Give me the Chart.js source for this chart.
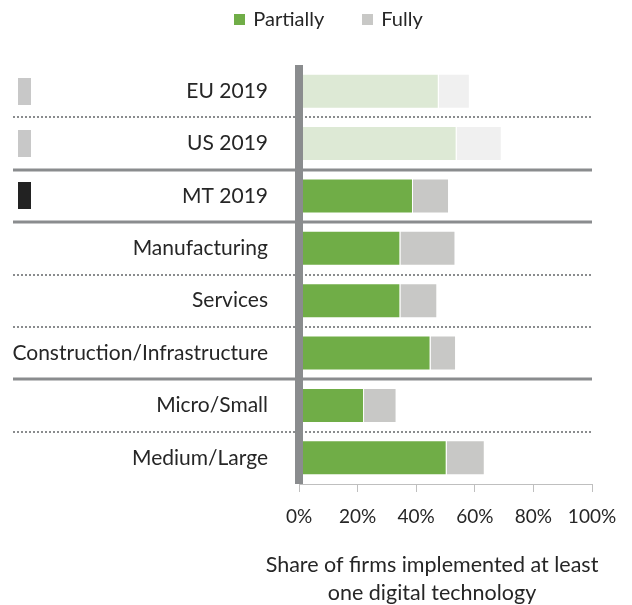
<!DOCTYPE html>
<html>
<head>
<meta charset="utf-8">
<script src="https://cdn.jsdelivr.net/npm/chart.js@4.4.0/dist/chart.umd.min.js"></script>
<style>
  html, body { margin: 0; padding: 0; background: #fff; }
  #wrap { width: 632px; height: 605px; position: relative; }
</style>
</head>
<body>
<div id="wrap"><canvas id="myChart"></canvas></div>
<script>
const categories = ['EU 2019', 'US 2019', 'MT 2019', 'Manufacturing', 'Services', 'Construction/Infrastructure', 'Micro/Small', 'Medium/Large']
const partially = [47.7, 53.8, 38.9, 34.6, 34.6, 44.9, 22.2, 50.4]
const fully = [10.6, 15.4, 12.3, 18.8, 12.6, 8.7, 11.1, 13.0]
const xTicks = [0, 20, 40, 60, 80, 100]
const axisTitle = ['Share of firms implemented at least', 'one digital technology']

// benchmark rows are drawn faded, with a small marker in front
const benchmark = [true, true, false, false, false, false, false, false]
const markers = ['#c8c8c8', '#c8c8c8', '#222222', null, null, null, null, null]
// line drawn under each row
const separators = ['dotted', 'solid', 'solid', 'dotted', 'dotted', 'solid', 'dotted']

const green = '#70ad47'
const greenLight = '#dde9d5'
const gray = '#c8c8c6'
const grayLight = '#f0f0f0'
const lineGray = '#8a8c8e'
const textColor = '#262626'
const fontFamily = 'Lato, sans-serif'

const decor = {
    id: 'decor',
    afterDatasetsDraw(chart) {
        const { ctx, chartArea, scales: { x, y } } = chart
        ctx.save()
        ctx.strokeStyle = lineGray
        separators.forEach((kind, i) => {
            const yy = Math.round((y.getPixelForValue(i) + y.getPixelForValue(i + 1)) / 2)
            ctx.beginPath()
            if (kind === 'solid') {
                ctx.lineWidth = 3
                ctx.setLineDash([])
            } else {
                ctx.lineWidth = 2
                ctx.setLineDash([2, 2])
            }
            ctx.moveTo(13, yy)
            ctx.lineTo(chartArea.right, yy)
            ctx.stroke()
        })
        ctx.setLineDash([])

        // thick zero line
        const x0 = x.getPixelForValue(0)
        ctx.fillStyle = lineGray
        ctx.fillRect(x0 - 4, chartArea.top, 8, chartArea.bottom - chartArea.top)

        markers.forEach((c, i) => {
            if (!c) return
            const yy = y.getPixelForValue(i)
            ctx.fillStyle = c
            ctx.fillRect(18, Math.round(yy - 13.5), 13, 27)
        })
        ctx.restore()
    },
    afterDraw(chart) {
        const { ctx } = chart
        ctx.save()
        ctx.font = '20px ' + fontFamily
        ctx.textBaseline = 'middle'
        ctx.fillStyle = textColor

        // legend
        const items = chart.data.datasets.map(ds => ({ text: ds.label, color: ds.legendColor }))
        const widths = items.map(it => 11 + 8 + ctx.measureText(it.text).width)
        const total = widths.reduce((a, b) => a + b, 0) + 38 * (items.length - 1)
        let lx = 328.5 - total / 2
        items.forEach((it, i) => {
            ctx.fillStyle = it.color
            ctx.fillRect(Math.round(lx), 14, 11, 11)
            ctx.fillStyle = textColor
            ctx.textAlign = 'left'
            ctx.fillText(it.text, lx + 19, 20)
            lx += widths[i] + 38
        })

        // axis title
        ctx.font = '21.5px ' + fontFamily
        ctx.textAlign = 'center'
        axisTitle.forEach((line, i) => {
            ctx.fillText(line, 432, 565 + i * 28)
        })
        ctx.restore()
    }
}

const myChart = new Chart(document.getElementById('myChart'), {
    type: 'bar',
    data: {
        labels: categories,
        datasets: [{
            label: 'Partially',
            data: partially,
            legendColor: green,
            backgroundColor: benchmark.map(b => b ? greenLight : green),
            borderColor: '#ffffff',
            borderWidth: 1
        }, {
            label: 'Fully',
            data: fully,
            legendColor: gray,
            backgroundColor: benchmark.map(b => b ? grayLight : gray),
            borderColor: '#ffffff',
            borderWidth: 1
        }]
    },
    options: {
        indexAxis: 'y',
        responsive: true,
        maintainAspectRatio: false,
        animation: false,
        datasets: {
            bar: { categoryPercentage: 1, barPercentage: 0.668 }
        },
        layout: {
            padding: { top: 65, right: 40, bottom: 0, left: 0 }
        },
        plugins: {
            legend: { display: false },
            tooltip: { enabled: false }
        },
        scales: {
            x: {
                stacked: true,
                min: 0,
                max: 100,
                afterBuildTicks: scale => { scale.ticks = xTicks.map(v => ({ value: v })) },
                afterFit: scale => { scale.height = 121 },
                grid: {
                    drawOnChartArea: false,
                    drawTicks: true,
                    tickLength: 8,
                    color: '#bfbfbf'
                },
                border: { display: true, color: '#bfbfbf' },
                ticks: {
                    padding: 13,
                    color: textColor,
                    font: { family: fontFamily, size: 19 },
                    maxRotation: 0,
                    callback: v => v + '%'
                }
            },
            y: {
                stacked: true,
                afterFit: scale => { scale.width = 299 },
                grid: { display: false, drawTicks: false },
                border: { display: false },
                ticks: {
                    padding: 31,
                    color: textColor,
                    font: { family: fontFamily, size: 21 }
                }
            }
        }
    },
    plugins: [decor]
})
</script>
</body>
</html>
